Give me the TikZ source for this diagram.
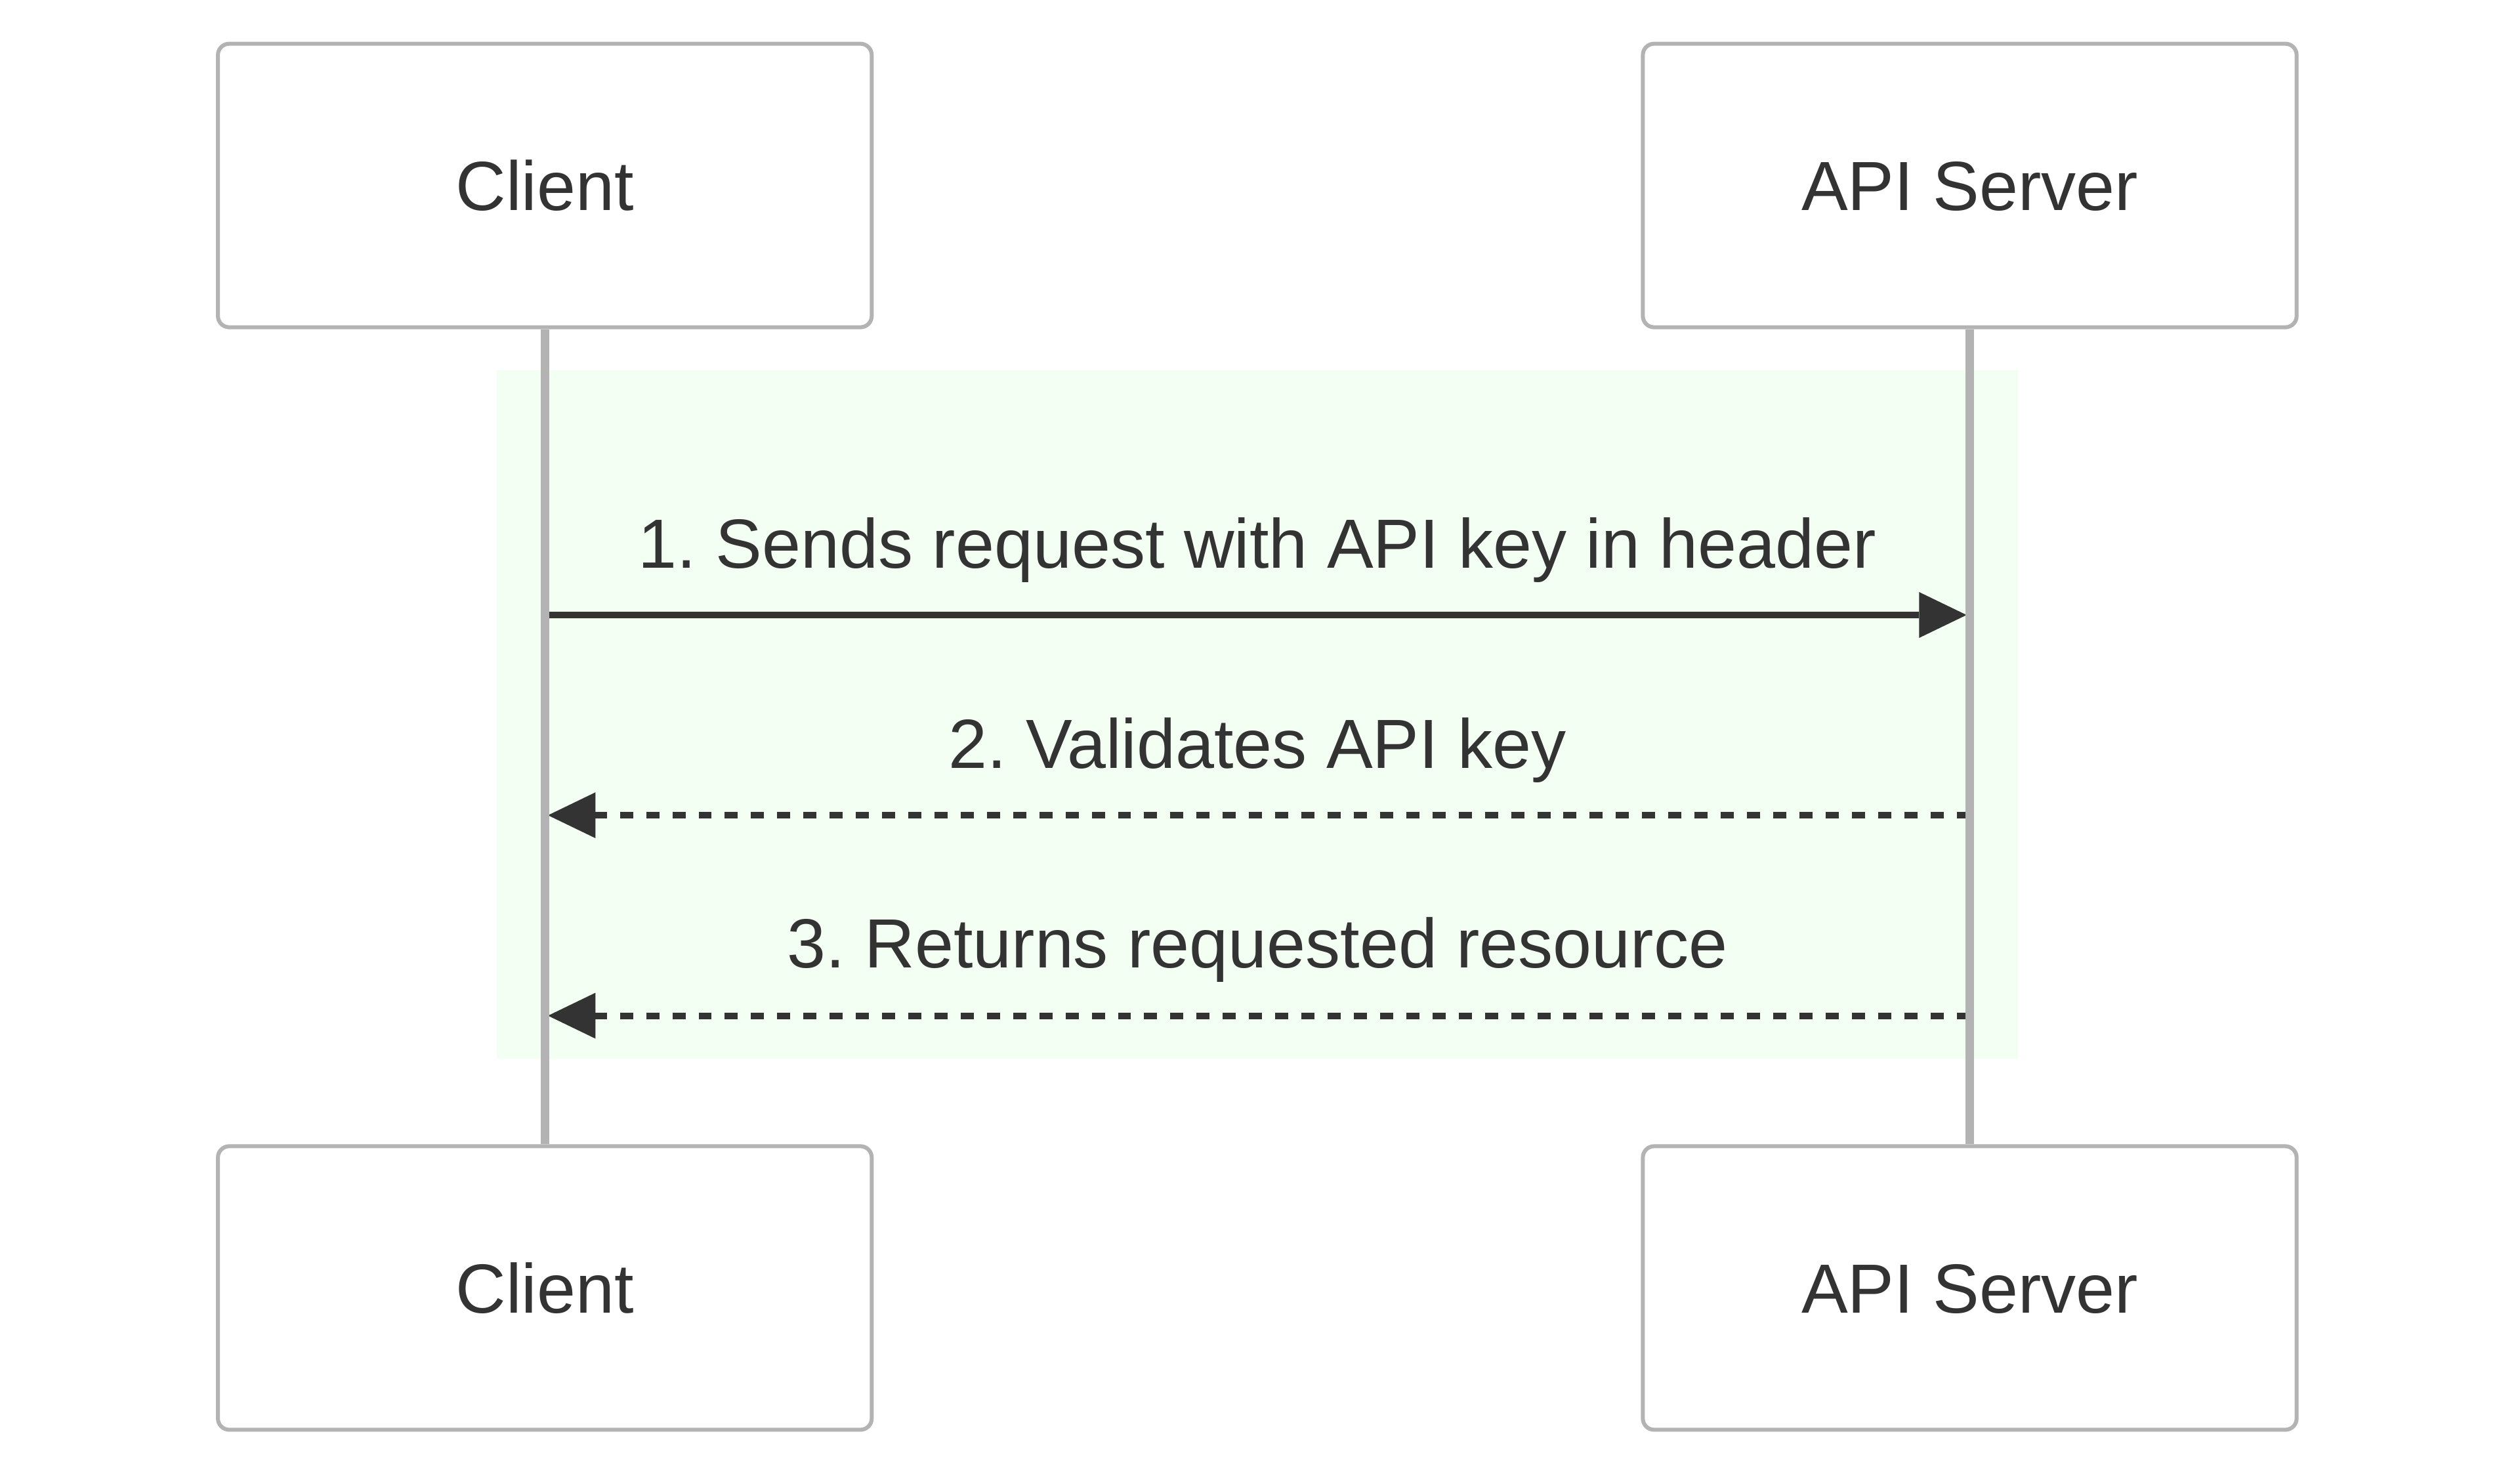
\documentclass[tikz,border=0pt]{standalone}
\usepackage{fontspec}
\setmainfont{Liberation Sans}
\usetikzlibrary{arrows.meta}
\definecolor{actorgrey}{HTML}{B3B3B3}
\definecolor{inkgrey}{HTML}{333333}
\definecolor{rectgreen}{HTML}{F3FFF3}
\frenchspacing

\begin{document}
\begin{tikzpicture}[every node/.style={font=\fontsize{30.8}{37}\selectfont, text=inkgrey},
  actor/.style={draw=actorgrey, line width=1.75pt, fill=white, rounded corners=5pt,
    minimum width=10.17cm, minimum height=4.41cm, text height=22.2pt, text depth=0pt},
  lifeline/.style={draw=actorgrey, line width=3.9pt},
  request/.style={draw=inkgrey, line width=2.9pt, shorten >=1.4pt,
    -{Triangle[length=21pt, width=20.3pt, line width=0pt]}},
  reply/.style={request, dash pattern=on 5.8pt off 5.8pt}]
  \useasboundingbox (0,0) rectangle (39.2,-23.05);

  % highlighted block
  \fill[rectgreen] (7.7275,-5.76) rectangle (31.39,-16.4675);

  \node[actor] (clientTop) at (8.475,-2.885) {Client};
  \node[actor] (serverTop) at (30.64,-2.885) {API Server};
  \node[actor] (clientBottom) at (8.475,-20.0325) {Client};
  \node[actor] (serverBottom) at (30.64,-20.0325) {API Server};

  \coordinate (c1) at (8.475,-9.565);  \coordinate (s1) at (30.64,-9.565);
  \coordinate (c2) at (8.475,-12.68);  \coordinate (s2) at (30.64,-12.68);
  \coordinate (c3) at (8.475,-15.7975); \coordinate (s3) at (30.64,-15.7975);

  \draw[request] (c1) -- (s1);
  \draw[reply] (s2) -- (c2);
  \draw[reply] (s3) -- (c3);

  \draw[lifeline] (clientTop.south) -- (clientBottom.north);
  \draw[lifeline] (serverTop.south) -- (serverBottom.north);

  \node[anchor=base] (msgOne) at (19.56,-8.83) {1. Sends request with API key in header};
  \node[anchor=base] (msgTwo) at (19.56,-11.95) {2. Validates API key};
  \node[anchor=base] (msgThree) at (19.56,-15.05) {3. Returns requested resource};
\end{tikzpicture}
\end{document}
